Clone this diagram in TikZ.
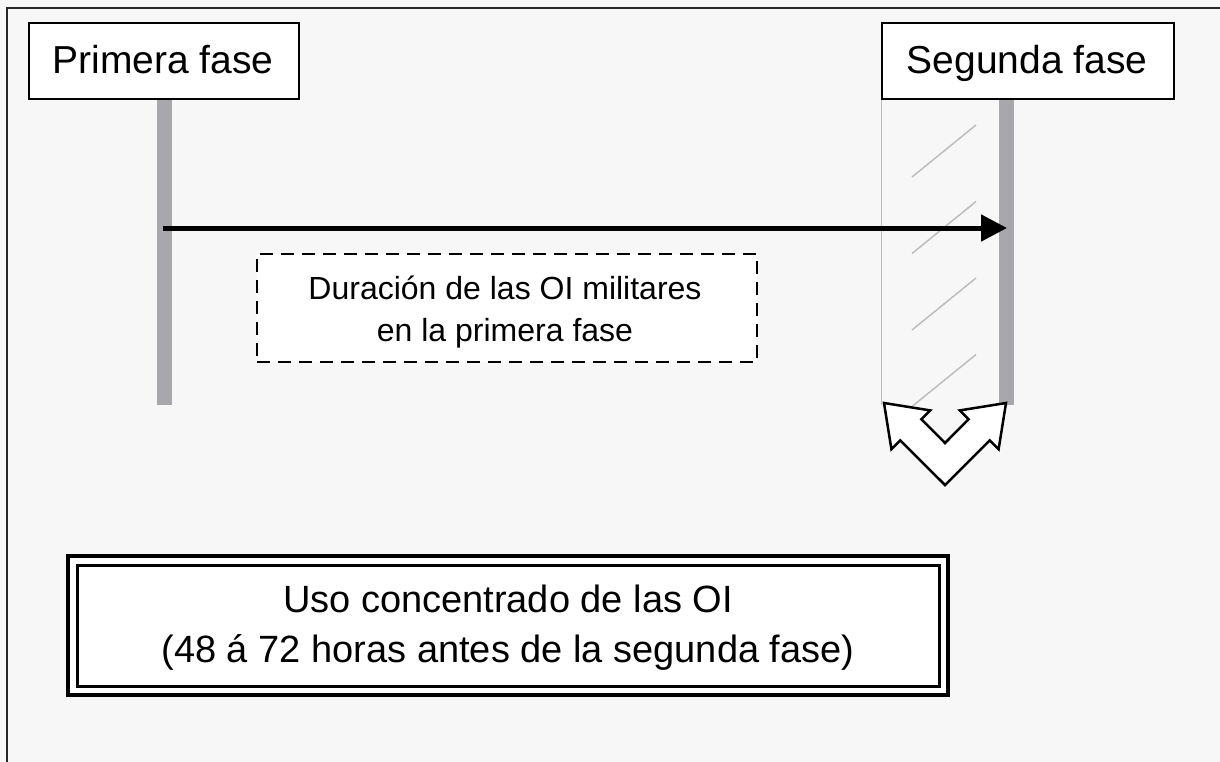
\documentclass[tikz,border=0pt]{standalone}
\usepackage{fontspec}
\setmainfont{Liberation Sans}
\usetikzlibrary{arrows.meta}
\definecolor{bgc}{HTML}{F7F7F7}
\definecolor{barc}{HTML}{A8A8AC}
\definecolor{hatchc}{HTML}{BDBDBD}
\begin{document}
\begin{tikzpicture}[x=1pt,y=-1pt,
  phase/.style={draw=black,line width=2pt,fill=white,inner sep=0pt},
  notebox/.style={draw=black,line width=2pt,dash pattern=on 13pt off 8pt,fill=white,inner sep=0pt},
  labeltext/.style={inner sep=0pt,align=center},
  flow/.style={line width=5pt,-{Triangle[length=26pt,width=26pt]}},
  dblarrow/.style={draw=black,line width=2.5pt,fill=white,line join=miter}]
\useasboundingbox (0,0) rectangle (1220,762);
\fill[bgc] (0,0) rectangle (1220,762);
\draw[line width=1.5pt,black!85] (7,800) -- (7,8) -- (1240,8);

% bars
\fill[barc] (157,99) rectangle (172,405);
\fill[barc] (999,99) rectangle (1014,405);
% hatched zone
\draw[hatchc,line width=1.5pt] (881.5,99) -- (881.5,405);
\begin{scope}
\clip (882,99) rectangle (999,405);
\foreach \k in {0,1,2,3}{
  \draw[hatchc,line width=1.5pt] (912,177+76.5*\k) -- (976,125+76.5*\k);
}
\end{scope}

% phase boxes
\node[phase,minimum width=270pt,minimum height=76pt] (p1) at (164,61) {};
\node[labeltext,anchor=base,font=\fontsize{39}{44}\selectfont] (t1) at (163,74) {Primera fase};
\node[phase,minimum width=292pt,minimum height=76pt] (p2) at (1028,61) {};
\node[labeltext,anchor=base,font=\fontsize{39}{44}\selectfont] (t2) at (1027,74) {Segunda fase};

% arrow
\coordinate (a1) at (163,228);
\coordinate (a2) at (1007,228);
\draw[flow] (a1) -- (a2);

% dashed note
\node[notebox,minimum width=500pt,minimum height=108pt] (note) at (507,308) {};
\node[labeltext,anchor=base,font=\fontsize{32}{43}\selectfont] (n1) at (505,299) {Duración de las OI militares};
\node[labeltext,anchor=base,font=\fontsize{32}{43}\selectfont] (n2) at (505,341) {en la primera fase};

% double arrow
\draw[dblarrow] (884,403) -- (930.2,410.4) -- (921.4,419.2) -- (945,443) -- (968.6,419.2)
  -- (959.8,410.4) -- (1006,403) -- (998.6,449.2) -- (989.8,440.4) -- (945,485)
  -- (900.2,440.4) -- (891.4,449.2) -- cycle;

% main box (double border)
\node[draw=black,line width=4.5pt,fill=white,inner sep=0pt,minimum width=880pt,minimum height=139pt] (mbox) at (508,625.5) {};
\node[draw=black,line width=3pt,inner sep=0pt,minimum width=862pt,minimum height=121pt] (mboxin) at (mbox.center) {};
\node[labeltext,anchor=base,font=\fontsize{38}{50}\selectfont] (m1) at (508,612) {Uso concentrado de las OI};
\node[labeltext,anchor=base,font=\fontsize{38}{50}\selectfont] (m2) at (508,662) {(48 á 72 horas antes de la segunda fase)};
\end{tikzpicture}
\end{document}
